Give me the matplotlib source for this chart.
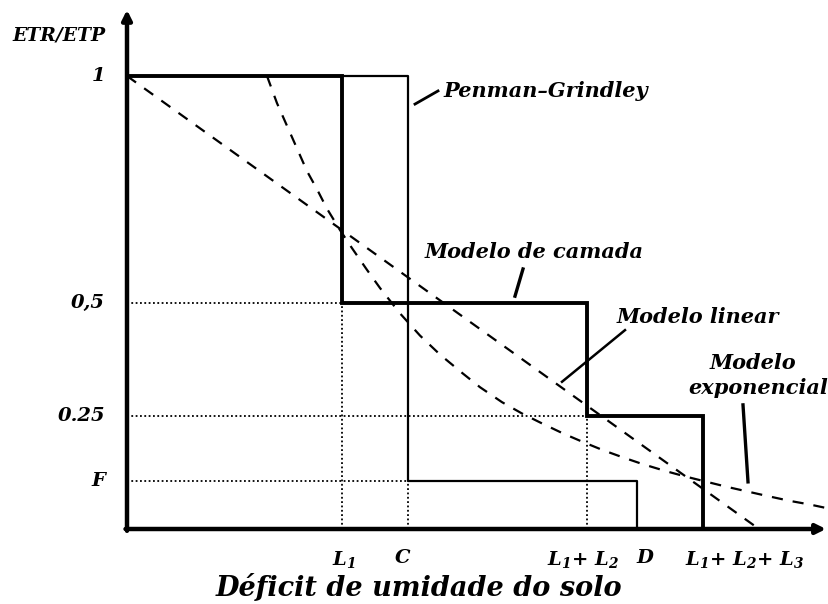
import matplotlib
matplotlib.use("Agg")
import matplotlib.pyplot as plt

plt.rcParams["font.family"] = ["DejaVu Serif"]
plt.rcParams["mathtext.fontset"] = "custom"
plt.rcParams["mathtext.rm"] = "DejaVu Serif:bold:italic"
plt.rcParams["mathtext.it"] = "DejaVu Serif:bold:italic"
plt.rcParams["mathtext.bf"] = "DejaVu Serif:bold:italic"

# soil moisture deficit breakpoints (arbitrary units)
L1 = 2.15
C = 2.81
L12 = 4.60
D = 5.10
L123 = 5.76

# ETR/ETP levels
F = 0.105
y_levels = [1.0, 0.5, 0.25, F]
y_labels = ["1", "0,5", "0.25", "F"]

x_ticks = [L1, C, L12, D, L123]
x_labels = ["L$_1$", "C", "L$_1$+ L$_2$", "D", "L$_1$+ L$_2$+ L$_3$"]

# layer model (thick steps)
camada_x = [0, L1, L1, L12, L12, L123, L123]
camada_y = [1.0, 1.0, 0.5, 0.5, 0.25, 0.25, 0.0]

# Penman-Grindley (thin steps)
penman_x = [L1, C, C, D, D]
penman_y = [1.0, 1.0, F, F, 0.0]

# linear model
linear_x = [0.0, 6.32]
linear_y = [1.0, 0.0]

# exponential model
exp_x = [1.40, 1.50, 1.60, 1.70, 1.80, 1.90, 2.00, 2.13, 2.25, 2.40, 2.53,
         2.73, 2.93, 3.13, 3.36, 3.53, 3.75, 3.95, 4.16, 4.36, 4.56, 4.76,
         4.96, 5.16, 5.40, 5.60, 5.80, 6.00, 6.20, 6.40, 6.63, 6.83, 7.00]
exp_y = [1.00, 0.94, 0.89, 0.84, 0.79, 0.75, 0.707, 0.660, 0.620, 0.572, 0.532,
         0.476, 0.427, 0.385, 0.343, 0.313, 0.280, 0.255, 0.232, 0.211, 0.192, 0.174,
         0.158, 0.143, 0.127, 0.115, 0.104, 0.093, 0.083, 0.073, 0.062, 0.054, 0.046]

fig = plt.figure(figsize=(8.29, 6.04), dpi=100)
ax = fig.add_axes([0, 0, 1, 1])
ax.set_xlim(-1.27, 7.02)
ax.set_ylim(-75 / 453, 529 / 453)
ax.axis("off")

# guide lines
dot = dict(color="black", lw=1.3, linestyle=(0, (1, 1.4)))
ax.plot([0, L1], [0.5, 0.5], **dot)
ax.plot([0, L12], [0.25, 0.25], **dot)
ax.plot([0, C], [F, F], **dot)
ax.plot([L1, L1], [0, 0.5], **dot)
ax.plot([C, C], [0, F], **dot)
ax.plot([L12, L12], [0, 0.25], **dot)

# models
dash = dict(color="black", lw=1.6, linestyle=(0, (5, 4.5)))
ax.plot(linear_x, linear_y, **dash)
ax.plot(exp_x, exp_y, **dash)
ax.plot(penman_x, penman_y, color="black", lw=1.6)
ax.plot(camada_x, camada_y, color="black", lw=2.8, solid_joinstyle="miter")

# axes with arrows
ax.annotate("", xy=(0, 1.146), xytext=(0, -0.004),
            arrowprops=dict(arrowstyle="-|>", lw=3.2, color="black",
                            mutation_scale=14, shrinkA=0, shrinkB=0))
ax.annotate("", xy=(6.99, 0), xytext=(-0.015, 0),
            arrowprops=dict(arrowstyle="-|>", lw=3.2, color="black",
                            mutation_scale=14, shrinkA=0, shrinkB=0))

txt = dict(fontweight="bold", style="italic", color="black")

for y, lab in zip(y_levels, y_labels):
    ax.text(-0.22, y, lab, ha="right", va="center", fontsize=14, **txt)
ax.text(-1.15, 1.09, "ETR/ETP", ha="left", va="center", fontsize=13.5, **txt)

# tick labels sit slightly off their breakpoints
label_shift = [0.02, -0.05, -0.04, 0.08, 0.42]
for x, dx, lab in zip(x_ticks, label_shift, x_labels):
    ax.text(x + dx, -0.045, lab, ha="center", va="top", fontsize=14, **txt)

ax.text(2.92, -0.13, "Déficit de umidade do solo", ha="center", va="center",
        fontsize=19.5, **txt)

# labels with leader lines
ax.text(3.16, 0.967, "Penman\u2013Grindley", ha="left", va="center", fontsize=15, **txt)
ax.plot([3.11, 2.88], [0.967, 0.938], color="black", lw=2.0)

ax.text(2.98, 0.611, "Modelo de camada", ha="left", va="center", fontsize=15, **txt)
ax.plot([3.96, 3.88], [0.574, 0.514], color="black", lw=2.4)

ax.text(4.90, 0.468, "Modelo linear", ha="left", va="center", fontsize=15, **txt)
ax.plot([4.98, 4.35], [0.439, 0.325], color="black", lw=1.8)

ax.text(6.26, 0.366, "Modelo", ha="center", va="center", fontsize=15, **txt)
ax.text(5.61, 0.311, "exponencial", ha="left", va="center", fontsize=15, **txt)
ax.plot([6.16, 6.21], [0.274, 0.104], color="black", lw=2.4)

fig.savefig("out.png", dpi=100)
